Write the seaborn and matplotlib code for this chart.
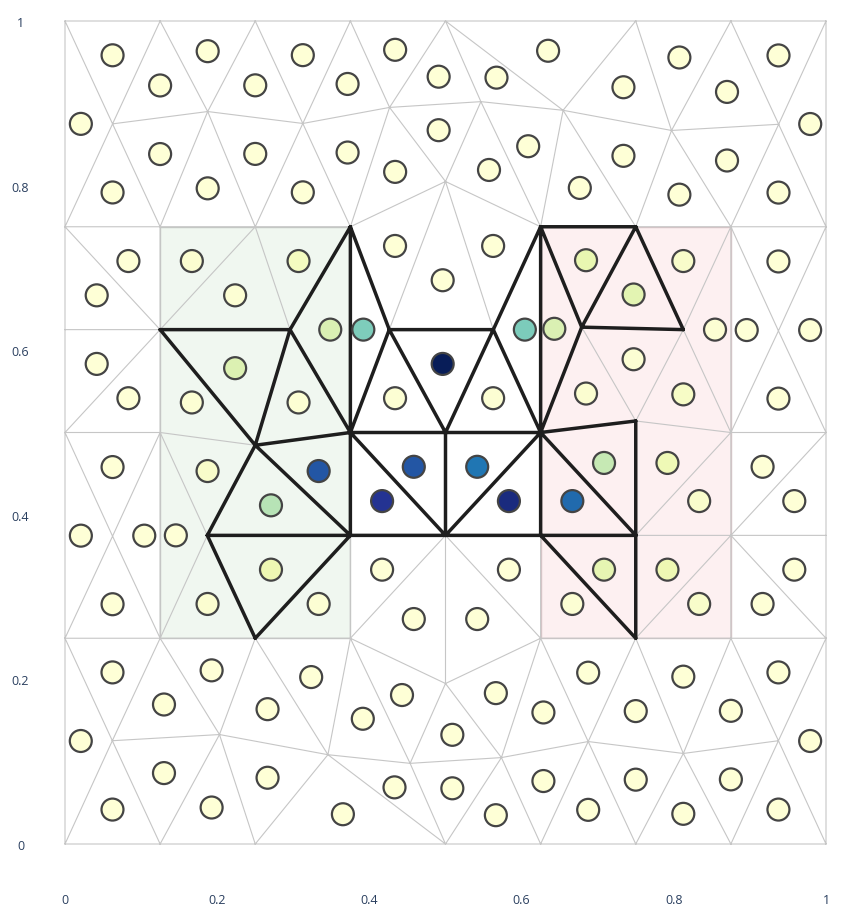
import matplotlib
matplotlib.use("Agg")
import matplotlib.pyplot as plt
import matplotlib.tri as mtri
from matplotlib.patches import Rectangle
import numpy as np
import pandas as pd
import seaborn as sns

# ---------------- data ----------------
vertex_names = [
    "T0", "T1", "T2", "T3", "T4", "T5", "T6", "T7",
    "M0", "M1", "M2", "M3", "M4", "M5", "M6", "M7", "C",
    "B0", "B1", "B2", "B3", "B4", "B5", "B6", "B7",
    "P0", "P1", "P2", "P3", "P4", "P5", "P6", "RC",
    "Q0", "Q1", "R", "Q2", "Q3", "Q4", "Q5", "Q6", "Q7", "L",
    "U1", "U2", "U3", "U4", "U5", "U6", "U7",
    "S0", "S1", "S2", "S3", "S4", "S5", "S6", "S7", "CB",
    "N0", "N1", "N2", "N3", "N4", "N5", "N6", "N7",
    "Z0", "Z1", "Z2", "Z3", "Z4", "Z5", "Z6", "Z7",
]
vertex_x = [
    0, 0.125, 0.25, 0.375, 0.5, 0.75, 0.875, 1,
    0.0625, 0.1875, 0.3125, 0.4265, 0.5465, 0.6545, 0.797, 0.9378, 0.5,
    0, 0.125, 0.25, 0.375, 0.625, 0.75, 0.875, 1,
    0, 0.125, 0.2957, 0.4261, 0.5628, 0.679, 0.8125, 0.9375,
    0, 0.125, 0.25, 0.375, 0.5, 0.625, 0.75, 0.875, 1, 0.0625,
    0.187, 0.375, 0.5, 0.625, 0.75, 0.875, 1,
    0, 0.125, 0.25, 0.375, 0.625, 0.75, 0.875, 1, 0.5,
    0.0622, 0.203, 0.3455, 0.4535, 0.5735, 0.6875, 0.8125, 0.9375,
    0, 0.125, 0.25, 0.5, 0.625, 0.75, 0.875, 1,
]
vertex_y = [
    1, 1, 1, 1, 1, 1, 1, 1,
    0.875, 0.890, 0.8755, 0.895, 0.902, 0.8915, 0.867, 0.8745, 0.805,
    0.75, 0.75, 0.75, 0.75, 0.75, 0.75, 0.75, 0.75,
    0.625, 0.625, 0.625, 0.625, 0.625, 0.628, 0.625, 0.6235,
    0.5, 0.5, 0.4845, 0.5, 0.5, 0.5, 0.514, 0.5, 0.5, 0.374,
    0.375, 0.375, 0.375, 0.375, 0.375, 0.375, 0.375,
    0.25, 0.25, 0.25, 0.25, 0.25, 0.25, 0.25, 0.25, 0.195,
    0.1255, 0.133, 0.1085, 0.098, 0.105, 0.1245, 0.110, 0.1255,
    0, 0, 0, 0, 0, 0, 0, 0,
]

# triangles (corner names), value per triangle, selected flag
triangles = [
    # top band
    "T0 T1 M0", "T1 M1 M0", "T1 T2 M1", "T2 M2 M1", "T2 T3 M2", "T3 M3 M2",
    "T3 T4 M3", "T4 M4 M3", "T4 M5 M4", "T4 T5 M5", "T5 M6 M5", "T5 T6 M6",
    "T6 M7 M6", "T6 T7 M7", "T7 B7 M7", "T0 M0 B0", "M0 M1 B1", "M0 B1 B0",
    "M1 B2 B1", "M1 M2 B2", "M2 B3 B2", "M2 M3 B3", "M3 C B3", "M3 M4 C",
    "M4 B4 C", "M4 M5 B4", "M5 B5 B4", "M5 M6 B5", "M6 B6 B5", "M6 M7 B6",
    "M7 B7 B6",
    # middle band
    "B0 P1 P0", "B0 B1 P1", "B1 B2 P1", "B2 P2 P1", "B2 B3 P2", "B3 Q2 P2",
    "B3 P3 Q2", "C B3 P3", "C P3 P4", "C P4 B4", "B4 P4 Q4", "B4 P5 Q4",
    "B4 B5 P5", "B5 P6 P5", "B5 B6 P6", "B6 Q6 P6", "B6 RC Q6", "B6 B7 RC",
    "B7 Q7 RC", "RC Q7 Q6",
    "P0 P1 Q0", "P1 Q1 Q0", "P1 R Q1", "P1 P2 R", "P2 Q2 R", "P3 Q3 Q2",
    "P3 P4 Q3", "P4 Q4 Q3", "P5 Q5 Q4", "P5 P6 Q5", "P6 Q6 Q5",
    "Q0 Q1 L", "Q0 L S0", "Q1 S1 L", "L S0 S1", "Q1 U1 S1", "Q1 R U1",
    "R U1 U2", "R U2 Q2", "U1 S2 U2", "U1 S1 S2", "U2 S3 S2", "Q2 U3 U2",
    "Q2 Q3 U3", "U2 U3 S3", "U3 CB S3", "Q3 U3 Q4", "Q4 U3 U4", "U3 U4 S4",
    "U3 S4 CB", "Q4 Q5 U5", "Q4 U5 U4", "U4 U5 S5", "U4 S5 S4", "Q5 Q6 U5",
    "Q6 U6 U5", "U5 U6 S5", "U6 S6 S5", "Q6 Q7 U6", "Q7 U7 U6", "U6 U7 S7",
    "U6 S7 S6",
    # bottom band
    "Z7 Z6 N7", "Z6 N6 N7", "Z6 Z5 N6", "Z5 N5 N6", "Z5 Z4 N5", "Z4 N4 N5",
    "Z4 Z3 N4", "Z3 N3 N4", "Z3 N2 N3", "Z3 Z2 N2", "Z2 N1 N2", "Z2 Z1 N1",
    "Z1 N0 N1", "Z1 Z0 N0", "Z0 S0 N0", "Z7 N7 S7", "N7 N6 S6", "N7 S6 S7",
    "N6 S5 S6", "N6 N5 S5", "N5 S4 S5", "N5 N4 S4", "N4 CB S4", "N4 N3 CB",
    "N3 S3 CB", "N3 N2 S3", "N2 S2 S3", "N2 N1 S2", "N1 S1 S2", "N1 N0 S1",
    "N0 S0 S1",
]
values = (
    [0.01] * 31
    + [0.01, 0.01, 0.03, 0.02, 0.08, 0.19,
       0.375, 0.01, 0.01, 0.01, 0.38, 0.19,
       0.14, 0.16, 0.05, 0.02, 0.01, 0.01,
       0.01, 0.01,
       0.01, 0.01, 0.02, 0.18, 0.02, 0.02,
       1.0, 0.02, 0.03, 0.02, 0.06,
       0.01, 0.01, 0.01, 0.01, 0.01, 0.05,
       0.28, 0.77, 0.12, 0.03, 0.02, 0.875,
       0.77, 0.01, 0.01, 0.69, 0.92, 0.01,
       0.01, 0.25, 0.72, 0.15, 0.02, 0.11,
       0.04, 0.12, 0.05, 0.01, 0.01, 0.01,
       0.01]
    + [0.01] * 31
)
selected = [
    "B3 Q2 P2", "B3 P3 Q2", "B4 P4 Q4", "B4 P5 Q4", "B4 B5 P5", "B5 P6 P5",
    "P1 P2 R", "P2 Q2 R", "P3 Q3 Q2", "P3 P4 Q3", "P4 Q4 Q3",
    "R U1 U2", "R U2 Q2", "U1 S2 U2", "Q2 U3 U2", "Q2 Q3 U3",
    "Q3 U3 Q4", "Q4 U3 U4", "Q4 Q5 U5", "Q4 U5 U4", "U4 U5 S5",
]
# shaded regions: (x0, y0, width, height, fill, edge)
regions_x = [0.125, 0.625]
regions_y = [0.25, 0.25]
regions_w = [0.25, 0.25]
regions_h = [0.5, 0.5]
region_fill = ["#f0f7f0", "#fdf0f1"]
region_edge = ["#c4c8c4", "#d8c4c6"]

tick_values = [0, 0.2, 0.4, 0.6, 0.8, 1]
tick_labels = ["0", "0.2", "0.4", "0.6", "0.8", "1"]

# ---------------- build ----------------
idx = {n: i for i, n in enumerate(vertex_names)}
tri_idx = np.array([[idx[c] for c in t.split()] for t in triangles])
sel_idx = np.array([[idx[c] for c in t.split()] for t in selected])
vx = np.array(vertex_x, float)
vy = np.array(vertex_y, float)

df = pd.DataFrame({
    "cx": vx[tri_idx].mean(axis=1),
    "cy": vy[tri_idx].mean(axis=1),
    "value": values,
})

sns.set_theme(style="white")
plt.rcParams["font.family"] = ["Open Sans", "DejaVu Sans"]

fig = plt.figure(figsize=(8.5, 9.2), dpi=100)
ax = fig.add_axes([65 / 850, 75 / 920, 761 / 850, 823 / 920])

for x0, y0, w, h, fc, ec in zip(regions_x, regions_y, regions_w, regions_h,
                                region_fill, region_edge):
    ax.add_patch(Rectangle((x0, y0), w, h, facecolor=fc, edgecolor=ec,
                           linewidth=1.0, zorder=1))

mesh = mtri.Triangulation(vx, vy, tri_idx)
lines = ax.triplot(mesh, color="#c6c6c6", linewidth=0.8, marker="", zorder=2)
for ln in lines:
    ln.set_clip_on(False)

sel_mesh = mtri.Triangulation(vx, vy, sel_idx)
lines = ax.triplot(sel_mesh, color="#1e1e1e", linewidth=2.5, marker="",
                   zorder=3, solid_joinstyle="miter")
for ln in lines:
    ln.set_clip_on(False)

sns.scatterplot(data=df, x="cx", y="cy", hue="value", palette="YlGnBu",
                hue_norm=(0, 1), s=250, edgecolor="#444444", linewidth=1.6,
                legend=False, ax=ax, zorder=4, clip_on=False)

ax.set_xlim(0, 1)
ax.set_ylim(0, 1)
ax.set_xticks(tick_values)
ax.set_xticklabels(tick_labels)
ax.set_yticks(tick_values)
ax.set_yticklabels(tick_labels, ha="center")
ax.tick_params(axis="x", length=0, pad=35, labelsize=9, labelcolor="#2a3f5f")
ax.tick_params(axis="y", length=0, pad=32, labelsize=9, labelcolor="#2a3f5f")
ax.set_xlabel("")
ax.set_ylabel("")
for sp in ax.spines.values():
    sp.set_visible(False)
ax.set_facecolor("white")
fig.patch.set_facecolor("white")

fig.savefig("out.png", dpi=100, facecolor="white")
